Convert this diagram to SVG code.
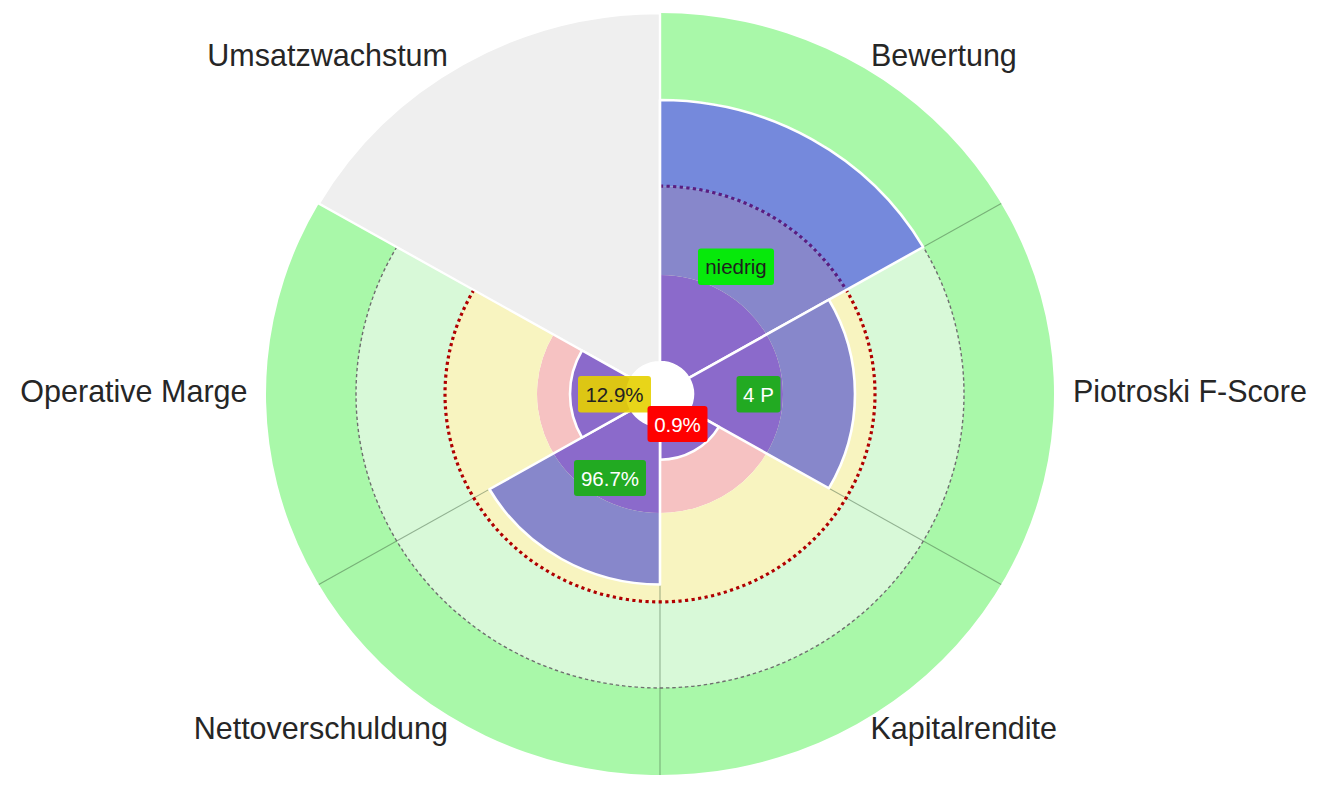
<svg xmlns="http://www.w3.org/2000/svg" width="1344" height="806" viewBox="0 0 1344 806">
<style>
.lbl{font-family:"Liberation Sans",Arial,sans-serif;font-size:30.5px;fill:#262626}
.val{font-family:"Liberation Sans",Arial,sans-serif;font-size:20.5px;text-anchor:middle}
.pink{fill:#f6c2c2}
.yel{fill:#f8f4c0}
.lg{fill:#d8f9d8}
.gr{fill:#a9f8a9}
.b1{fill:#8b6acb}
.b2{fill:#8787cb}
.b3{fill:#7589dc}
.outline{fill:none;stroke:#ffffff;stroke-width:2.6;stroke-linejoin:round}
.sep{stroke:#3c5a3c;stroke-opacity:0.45;stroke-width:1.1}
</style>
<rect width="1344" height="806" fill="#ffffff"/>
<g transform="translate(660 394) scale(1 0.967)">
  <g id="bands">
    <path class="pink" d="M0,-33 L0,-123 A123,123 0 1 1 -106.52,-61.5 L-28.58,-16.5 A33,33 0 1 0 0,-33 Z"/>
    <path class="yel" d="M0,-123 L0,-215 A215,215 0 1 1 -186.19,-107.5 L-106.52,-61.5 A123,123 0 1 0 0,-123 Z"/>
    <path class="lg" d="M0,-215 L0,-304 A304,304 0 1 1 -263.27,-152 L-186.19,-107.5 A215,215 0 1 0 0,-215 Z"/>
    <path class="gr" d="M0,-304 L0,-394 A394,394 0 1 1 -341.21,-197 L-263.27,-152 A304,304 0 1 0 0,-304 Z"/>
  </g>
  <g id="separators">
    <line class="sep" x1="28.58" y1="-16.5" x2="341.21" y2="-197"/>
    <line class="sep" x1="28.58" y1="16.5" x2="341.21" y2="197"/>
    <line class="sep" x1="0" y1="33" x2="0" y2="394"/>
    <line class="sep" x1="-28.58" y1="16.5" x2="-341.21" y2="197"/>
  </g>
  <g id="thresholds">
    <path d="M0,-304 A304,304 0 1 1 -263.27,-152" fill="none" stroke="#6e6e6e" stroke-width="1.4" stroke-dasharray="3.5 2.8"/>
    <path d="M0,-215 A215,215 0 1 1 -186.19,-107.5" fill="none" stroke="#b00000" stroke-width="3.2" stroke-dasharray="3.2 3.4"/>
  </g>
  <g id="sector-umsatzwachstum">
    <path d="M-28.58,-16.5 L-341.21,-197 A394,394 0 0 1 0,-394 L0,-33 A33,33 0 0 0 -28.58,-16.5 Z" fill="#efefef" stroke="#ffffff" stroke-width="2.4"/>
  </g>
  <g id="bar-bewertung">
    <path class="b1" d="M0,-33 L0,-123 A123,123 0 0 1 106.52,-61.5 L28.58,-16.5 A33,33 0 0 0 0,-33 Z"/>
    <path class="b2" d="M0,-123 L0,-215 A215,215 0 0 1 186.19,-107.5 L106.52,-61.5 A123,123 0 0 0 0,-123 Z"/>
    <path class="b3" d="M0,-215 L0,-304 A304,304 0 0 1 263.27,-152 L186.19,-107.5 A215,215 0 0 0 0,-215 Z"/>
    <path d="M0,-215 A215,215 0 0 1 186.19,-107.5" fill="none" stroke="#5a1d80" stroke-width="3.2" stroke-dasharray="3.2 3.4"/>
    <path class="outline" d="M0,-33 L0,-304 A304,304 0 0 1 263.27,-152 L28.58,-16.5 A33,33 0 0 0 0,-33 Z"/>
  </g>
  <g id="bar-piotroski">
    <path class="b1" d="M28.58,-16.5 L106.52,-61.5 A123,123 0 0 1 106.52,61.5 L28.58,16.5 A33,33 0 0 0 28.58,-16.5 Z"/>
    <path class="b2" d="M106.52,-61.5 L168.87,-97.5 A195,195 0 0 1 168.87,97.5 L106.52,61.5 A123,123 0 0 0 106.52,-61.5 Z"/>
    <path class="outline" d="M28.58,-16.5 L168.87,-97.5 A195,195 0 0 1 168.87,97.5 L28.58,16.5 A33,33 0 0 0 28.58,-16.5 Z"/>
  </g>
  <g id="bar-kapitalrendite">
    <path class="b1" d="M28.58,16.5 L58.89,34 A68,68 0 0 1 0,68 L0,33 A33,33 0 0 0 28.58,16.5 Z"/>
    <path class="outline" d="M28.58,16.5 L58.89,34 A68,68 0 0 1 0,68 L0,33 A33,33 0 0 0 28.58,16.5 Z"/>
  </g>
  <g id="bar-nettoverschuldung">
    <path class="b1" d="M0,33 L0,123 A123,123 0 0 1 -106.52,61.5 L-28.58,16.5 A33,33 0 0 0 0,33 Z"/>
    <path class="b2" d="M0,123 L0,197 A197,197 0 0 1 -170.6,98.5 L-106.52,61.5 A123,123 0 0 0 0,123 Z"/>
    <path class="outline" d="M0,33 L0,197 A197,197 0 0 1 -170.6,98.5 L-28.58,16.5 A33,33 0 0 0 0,33 Z"/>
  </g>
  <g id="bar-operative-marge">
    <path class="b1" d="M-28.58,16.5 L-77.94,45 A90,90 0 0 1 -77.94,-45 L-28.58,-16.5 A33,33 0 0 0 -28.58,16.5 Z"/>
    <path class="outline" d="M-28.58,16.5 L-77.94,45 A90,90 0 0 1 -77.94,-45 L-28.58,-16.5 A33,33 0 0 0 -28.58,16.5 Z"/>
  </g>
  <circle cx="0" cy="0" r="32" fill="#ffffff"/>
</g>
<g id="value-labels">
  <g id="val-bewertung">
    <rect x="698" y="248.5" width="76" height="36.5" rx="3" fill="#00ee00" fill-opacity="0.95"/>
    <text class="val" x="736" y="274" fill="#1e1e1e">niedrig</text>
  </g>
  <g id="val-piotroski">
    <rect x="736.5" y="376" width="44" height="36.5" rx="3" fill="#22aa22"/>
    <text class="val" x="758.5" y="401.5" fill="#ffffff">4 P</text>
  </g>
  <g id="val-operative-marge">
    <rect x="578" y="376" width="73" height="36.5" rx="3" fill="#e6d000" fill-opacity="0.9"/>
    <text class="val" x="614.5" y="401.5" fill="#222222">12.9%</text>
  </g>
  <g id="val-kapitalrendite">
    <rect x="647.5" y="406" width="60" height="36" rx="3" fill="#ff0000"/>
    <text class="val" x="677.5" y="431.5" fill="#ffffff">0.9%</text>
  </g>
  <g id="val-nettoverschuldung">
    <rect x="574" y="460" width="72" height="36" rx="3" fill="#22aa22"/>
    <text class="val" x="610" y="485.5" fill="#ffffff">96.7%</text>
  </g>
</g>
<g id="axis-labels">
  <text class="lbl" x="448" y="66" text-anchor="end">Umsatzwachstum</text>
  <text class="lbl" x="871" y="66">Bewertung</text>
  <text class="lbl" x="1073" y="402">Piotroski F-Score</text>
  <text class="lbl" x="247.5" y="402" text-anchor="end">Operative Marge</text>
  <text class="lbl" x="448" y="739" text-anchor="end">Nettoverschuldung</text>
  <text class="lbl" x="870.5" y="739">Kapitalrendite</text>
</g>
</svg>
